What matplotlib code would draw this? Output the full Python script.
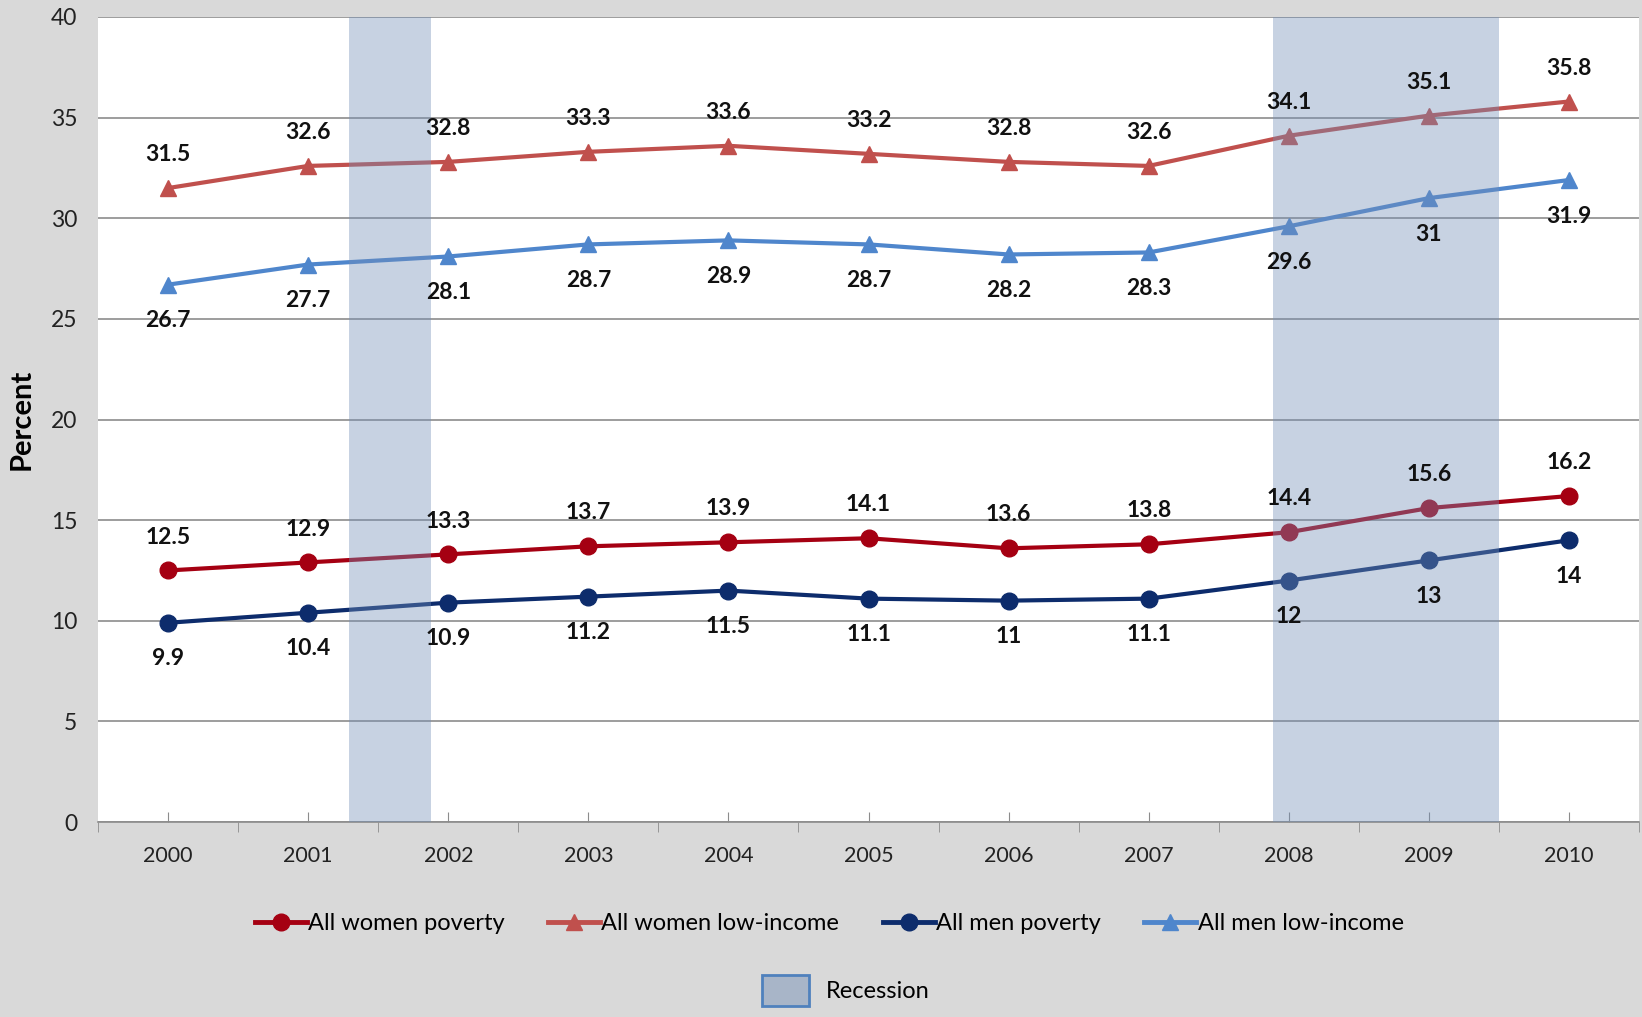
import matplotlib.pyplot as plt
from matplotlib.patches import Patch
from matplotlib.lines import Line2D

plt.rcParams['font.family'] = ['Lato', 'DejaVu Sans']

years = ['2000', '2001', '2002', '2003', '2004', '2005', '2006', '2007', '2008', '2009', '2010']
women_poverty = [12.5, 12.9, 13.3, 13.7, 13.9, 14.1, 13.6, 13.8, 14.4, 15.6, 16.2]
women_lowinc = [31.5, 32.6, 32.8, 33.3, 33.6, 33.2, 32.8, 32.6, 34.1, 35.1, 35.8]
men_poverty = [9.9, 10.4, 10.9, 11.2, 11.5, 11.1, 11.0, 11.1, 12.0, 13.0, 14.0]
men_lowinc = [26.7, 27.7, 28.1, 28.7, 28.9, 28.7, 28.2, 28.3, 29.6, 31.0, 31.9]
# recessions as (start, end) in category index units
recessions = [(1.29, 1.88), (7.89, 9.5)]

fig = plt.figure(figsize=(16.42, 10.17), dpi=100, facecolor='#d9d9d9')
ax = fig.add_axes([0.0597, 0.1917, 0.9385, 0.7916])
ax.set_facecolor('white')
x = list(range(len(years)))

series = [
    (women_poverty, 'All women poverty', '#a50012', 'o', 'above'),
    (women_lowinc, 'All women low-income', '#c0504d', '^', 'above'),
    (men_poverty, 'All men poverty', '#0d2c6c', 'o', 'below'),
    (men_lowinc, 'All men low-income', '#4f86cc', '^', 'below'),
]

for ys, name, col, mk, pos in series:
    ax.plot(x, ys, color=col, lw=3, marker=mk, markersize=12, zorder=3)
    for xi, yi in zip(x, ys):
        off = 24 if pos == 'above' else -26
        lab = ('%g' % yi)
        ax.annotate(lab, (xi, yi), xytext=(0, off), textcoords='offset points',
                    ha='center', va='center', fontsize=16.5, fontweight='bold',
                    color='#111111', zorder=5)

for a, b in recessions:
    ax.axvspan(a, b, color=(0.45, 0.56, 0.72), alpha=0.4, lw=0, zorder=4)

ax.set_xlim(-0.5, 10.5)
ax.set_ylim(0, 40)
ax.set_yticks(range(0, 41, 5))
ax.yaxis.grid(True, color='#8c8c8c', lw=1.2)
ax.set_axisbelow(True)
ax.tick_params(axis='y', length=0, labelsize=16.5, pad=15, colors='#222222')
ax.set_xticks(x)
ax.set_xticklabels(years)
ax.tick_params(axis='x', direction='in', length=7, color='#8c8c8c', labelsize=15.5, pad=17,
               labelcolor='#222222')
ax.set_xticks([i - 0.5 for i in range(len(years) + 1)], minor=True)
ax.tick_params(axis='x', which='minor', direction='out', length=7, color='#8c8c8c')
for s in ['left', 'right', 'top']:
    ax.spines[s].set_visible(False)
ax.spines['bottom'].set_color('#8c8c8c')
ax.spines['bottom'].set_linewidth(1.2)
ax.set_ylabel('Percent', fontsize=21, fontweight='bold')
ax.yaxis.set_label_coords(-0.041, 0.5)

handles = [Line2D([], [], color=col, lw=3.5, marker=mk, markersize=12)
           for ys, name, col, mk, pos in series]
labels = [s[1] for s in series]
leg = fig.legend(handles, labels, loc='center', bbox_to_anchor=(0.505, 0.092), ncol=4,
                 frameon=False, fontsize=17, handlelength=2.2, handletextpad=0.05,
                 columnspacing=1.85)
leg2 = fig.legend([Patch(facecolor='#a8b5c8', edgecolor='#4f81bd', lw=2)], ['Recession'],
                  loc='center', bbox_to_anchor=(0.515, 0.026), frameon=False, fontsize=17,
                  handlelength=2.0, handleheight=1.6, handletextpad=0.7)

fig.savefig('out.png', dpi=100, facecolor=fig.get_facecolor())
